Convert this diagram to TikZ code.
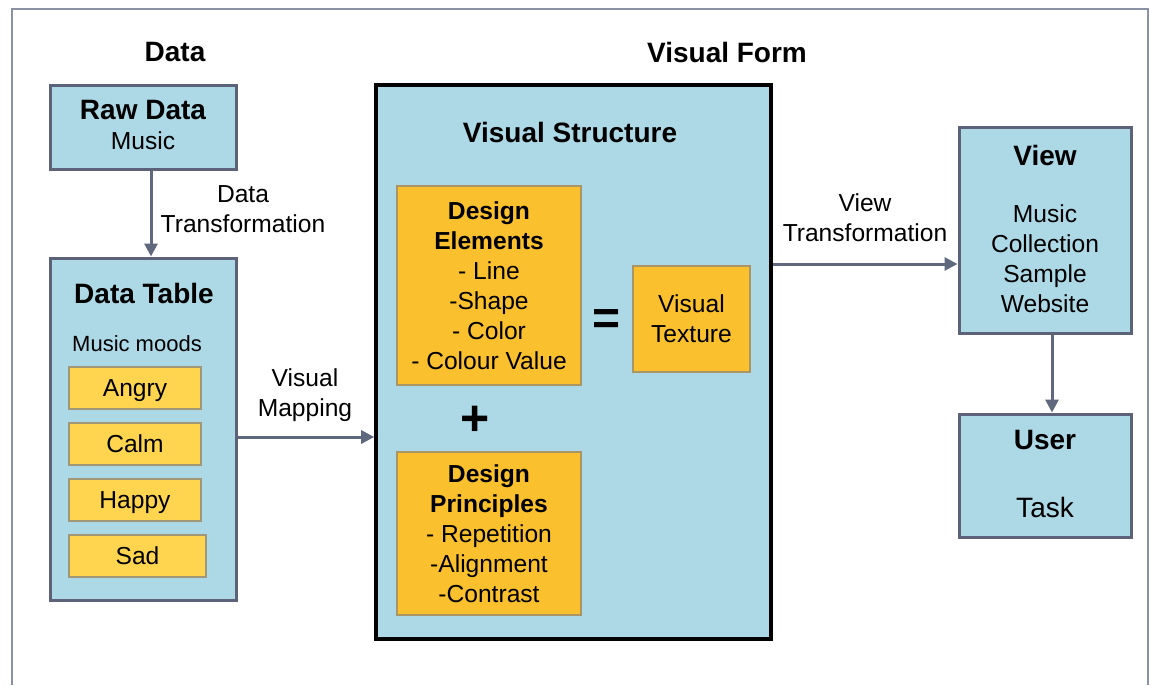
\documentclass[tikz,border=0pt]{standalone}
\usepackage{fontspec}
\setmainfont{Liberation Sans}
\usetikzlibrary{arrows.meta}

\definecolor{boxblue}{RGB}{173,216,230}
\definecolor{boxedge}{RGB}{92,99,120}
\definecolor{moodfill}{RGB}{255,213,79}
\definecolor{moodedge}{RGB}{160,150,120}
\definecolor{designfill}{RGB}{251,192,45}
\definecolor{designedge}{RGB}{170,150,100}
\definecolor{flowcol}{RGB}{95,104,125}
\definecolor{framecol}{RGB}{140,146,165}

\newcommand\txtsize{\fontsize{12.3}{15}\selectfont}
\newcommand\headsize{\fontsize{14}{17}\selectfont\bfseries}

\begin{document}
\begin{tikzpicture}[x=0.5pt,y=-0.5pt]
            \tikzset{bluebox/.style = {draw=boxedge, fill=boxblue, line width=1.5pt, inner sep=0pt}}
            \tikzset{moodbox/.style = {draw=moodedge, fill=moodfill, line width=0.6pt, inner sep=0pt, minimum width=66pt, minimum height=21pt, text height=8.8pt, text depth=0pt, font=\txtsize}}
            \tikzset{designbox/.style = {draw=designedge, fill=designfill, line width=0.6pt, inner sep=0pt, minimum width=92pt, align=center, font=\txtsize}}
            \tikzset{txt/.style = {align=center, font=\txtsize, inner sep=0pt}}
            \tikzset{head/.style = {align=center, font=\headsize, inner sep=0pt}}
            \tikzset{flow/.style = {draw=flowcol, line width=1.5pt, -{Triangle[length=6.5pt,width=6.5pt]}}}
            \useasboundingbox (0,0) rectangle (1150,685);
            \fill[white] (0,0) rectangle (1150,685);
            \draw[framecol, line width=0.8pt] (12,685) -- (12,9) -- (1148,9) -- (1148,685);
            % vertices
            \node[head] (datahead) at (175,52) {Data};
            \node[head] (formhead) at (727,52) {Visual Form};
            \node[bluebox, minimum width=93pt, minimum height=42pt] (raw) at (143,127) {};
            \node[head] (rawtitle) at (143,110) {Raw Data};
            \node[txt] (rawtext) at (143,141) {Music};
            \node[bluebox, minimum width=93pt, minimum height=171pt] (table) at (143,429) {};
            \node[head] (tabletitle) at (144,293) {Data Table};
            \node[txt, font=\fontsize{11}{13}\selectfont] (moods) at (137,344) {Music moods};
            \node[moodbox] (angry) at (135,388) {Angry};
            \node[moodbox] (calm) at (135,444) {Calm};
            \node[moodbox] (happy) at (135,500) {Happy};
            \node[moodbox, minimum width=68.5pt] (sad) at (137.5,556) {Sad};
            \node[bluebox, draw=black, line width=1.8pt, minimum width=197.5pt, minimum height=277pt] (form) at (573.5,362) {};
            \node[head] (structure) at (570,132) {Visual Structure};
            \node[designbox, minimum height=99.5pt] (elements) at (489,285.5) {\textbf{Design}\\\textbf{Elements}\\- Line\\-Shape\\- Color\\- Colour Value};
            \node[designbox, minimum width=58.5pt, minimum height=53pt] (texture) at (691.5,319) {Visual\\Texture};
            \node[designbox, minimum height=81.5pt] (principles) at (489,533.5) {\textbf{Design}\\\textbf{Principles}\\- Repetition\\-Alignment\\-Contrast};
            \node[head, font=\fontsize{24}{24}\selectfont\bfseries] (equals) at (607,322) {=};
            \node[head, font=\fontsize{25}{25}\selectfont\bfseries] (plus) at (475,421) {+};
            \node[bluebox, minimum width=86pt, minimum height=103pt] (view) at (1045,230) {};
            \node[head] (viewtitle) at (1045,155) {View};
            \node[txt] (viewtext) at (1045,259) {Music\\Collection\\Sample\\Website};
            \node[bluebox, minimum width=86pt, minimum height=61.5pt] (user) at (1045,475.5) {};
            \node[head] (usertitle) at (1045,440) {User};
            \node[txt, font=\fontsize{14}{17}\selectfont] (task) at (1045,507) {Task};
            % edge labels
            \node[txt] (datatrans) at (243,209) {Data\\Transformation};
            \node[txt] (mapping) at (305,395) {Visual\\Mapping};
            \node[txt] (viewtrans) at (865,218) {View\\Transformation};
            \coordinate (rawx) at (151,0);
            \coordinate (mapy) at (0,437);
            \coordinate (viewy) at (0,264);
            \coordinate (userx) at (1052,0);
            % edges
            \draw[flow] (raw.south -| rawx) to (table.north -| rawx);
            \draw[flow] (table.east |- mapy) to (form.west |- mapy);
            \draw[flow] (form.east |- viewy) to (view.west |- viewy);
            \draw[flow] (view.south -| userx) to (user.north -| userx);
        \end{tikzpicture}
\end{document}
